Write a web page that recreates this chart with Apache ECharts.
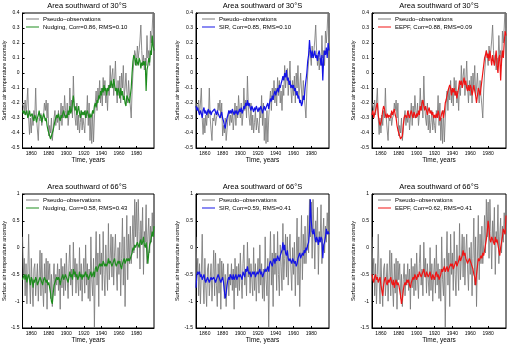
<!DOCTYPE html>
<html><head><meta charset="utf-8">
<script src="https://cdn.jsdelivr.net/npm/echarts@6/dist/echarts.min.js"></script>
<style>html,body{margin:0;padding:0;background:#fff}#c{width:509px;height:345px}</style>
</head><body><div id="c"></div>
<script>
const firstYear = 1850;
const xTicks = [1860, 1880, 1900, 1920, 1940, 1960, 1980];
const yTicks30 = [-0.5, 0.4, 0.1];
const yTicks66 = [-1.5, 1, 0.5];
const titles = ['Area southward of 30°S', 'Area southward of 66°S'];
const obsName = 'Pseudo–observations';
const modelNames = [
  'Nudging, Corr=0.86, RMS=0.10', 'SIR, Corr=0.85, RMS=0.10', 'EEPF, Corr=0.88, RMS=0.09',
  'Nudging, Corr=0.58, RMS=0.43', 'SIR, Corr=0.59, RMS=0.41', 'EEPF, Corr=0.62, RMS=0.41'
];

const obs30 = [
 -0.20,-0.22,-0.25,-0.18,-0.28,-0.20,-0.10,-0.30,-0.41,-0.30,
 -0.40,-0.28,-0.35,-0.25,-0.30,-0.10,-0.30,-0.38,-0.45,-0.30,
 -0.32,-0.27,-0.35,-0.30,-0.28,-0.20,-0.25,-0.18,-0.30,-0.20,
 -0.42,-0.35,-0.40,-0.30,-0.45,-0.38,-0.30,-0.25,-0.35,-0.28,
 -0.33,-0.25,-0.38,-0.30,-0.20,-0.35,-0.22,-0.30,-0.15,-0.25,
 -0.30,-0.20,-0.35,-0.28,-0.10,-0.25,-0.18,-0.30,-0.02,-0.22,
 -0.30,-0.35,-0.20,-0.38,-0.28,-0.40,-0.33,-0.25,-0.38,-0.30,
 -0.35,-0.40,-0.25,-0.30,-0.15,-0.35,-0.20,-0.45,-0.30,-0.47,
 -0.25,-0.46,-0.30,-0.20,-0.12,-0.25,-0.10,-0.18,-0.05,-0.20,
 -0.10,-0.22,-0.03,-0.15,-0.05,-0.20,-0.12,-0.25,-0.08,-0.15,
  0.05,-0.10,-0.02, 0.03,-0.15,-0.05, 0.08,-0.10,-0.20,-0.05,
 -0.15,-0.02,-0.20, 0.00,-0.10, 0.05,-0.15,-0.10, 0.00,-0.12,
 -0.20,-0.05,-0.15,-0.22,-0.30,-0.12, 0.00, 0.08, 0.15, 0.12,
  0.05, 0.18, 0.10, 0.15, 0.22, 0.32, 0.15, 0.05, 0.12, 0.02,
  0.10, 0.05, 0.25, 0.10, 0.15, 0.05, 0.28, 0.20, 0.30, 0.45,
  0.30];
const nudging30 = [
 -0.25,-0.27,-0.25,-0.28,-0.27,-0.25,-0.30,-0.28,-0.25,-0.29,
 -0.30,-0.27,-0.30,-0.32,-0.28,-0.30,-0.33,-0.30,-0.28,-0.25,
 -0.30,-0.28,-0.33,-0.30,-0.27,-0.29,-0.32,-0.30,-0.35,-0.38,
 -0.40,-0.42,-0.44,-0.45,-0.43,-0.38,-0.35,-0.32,-0.30,-0.28,
 -0.30,-0.27,-0.30,-0.32,-0.28,-0.30,-0.27,-0.25,-0.28,-0.30,
 -0.28,-0.30,-0.25,-0.28,-0.22,-0.27,-0.25,-0.20,-0.15,-0.22,
 -0.25,-0.22,-0.28,-0.25,-0.22,-0.27,-0.30,-0.25,-0.28,-0.26,
 -0.28,-0.25,-0.30,-0.27,-0.25,-0.28,-0.30,-0.27,-0.30,-0.28,
 -0.25,-0.27,-0.22,-0.20,-0.23,-0.18,-0.20,-0.15,-0.17,-0.12,
 -0.15,-0.10,-0.13,-0.08,-0.12,-0.10,-0.15,-0.10,-0.12,-0.08,
 -0.10,-0.05,-0.08,-0.10,-0.04,-0.08,-0.12,-0.10,-0.15,-0.10,
 -0.12,-0.17,-0.10,-0.15,-0.12,-0.18,-0.15,-0.20,-0.22,-0.15,
 -0.15,-0.18,-0.20,-0.15,-0.10, 0.00, 0.08, 0.12, 0.10, 0.05,
  0.10, 0.07, 0.05, 0.10, 0.08, 0.03, 0.07, 0.05, 0.08, 0.05,
  0.08,-0.12, 0.02, 0.05, 0.10, 0.07, 0.15, 0.12, 0.25, 0.18,
  0.15];
const sir30 = [
 -0.22,-0.25,-0.23,-0.26,-0.28,-0.25,-0.27,-0.30,-0.25,-0.23,
 -0.27,-0.25,-0.28,-0.26,-0.24,-0.27,-0.25,-0.28,-0.26,-0.25,
 -0.27,-0.24,-0.26,-0.28,-0.25,-0.27,-0.26,-0.30,-0.28,-0.26,
 -0.30,-0.32,-0.35,-0.37,-0.33,-0.30,-0.28,-0.25,-0.27,-0.25,
 -0.27,-0.24,-0.26,-0.28,-0.25,-0.27,-0.25,-0.28,-0.26,-0.24,
 -0.26,-0.23,-0.27,-0.25,-0.22,-0.24,-0.20,-0.22,-0.18,-0.22,
 -0.20,-0.23,-0.25,-0.22,-0.24,-0.26,-0.23,-0.25,-0.22,-0.24,
 -0.26,-0.23,-0.25,-0.22,-0.24,-0.27,-0.24,-0.22,-0.25,-0.23,
 -0.22,-0.20,-0.24,-0.20,-0.17,-0.19,-0.15,-0.18,-0.14,-0.12,
 -0.15,-0.12,-0.10,-0.13,-0.08,-0.10,-0.07,-0.05,-0.02,-0.05,
  0.00,-0.03, 0.02,-0.05,-0.03,-0.08,-0.05,-0.10,-0.08,-0.10,
 -0.08,-0.12,-0.10,-0.15,-0.12,-0.17,-0.15,-0.20,-0.18,-0.22,
 -0.20,-0.15,-0.18,-0.10,-0.05, 0.00, 0.08, 0.12, 0.22, 0.15,
  0.10, 0.15, 0.10, 0.12, 0.15, 0.10, 0.12, 0.08, 0.13, 0.15,
  0.10, 0.05, 0.12,-0.05, 0.10, 0.15, 0.12, 0.17, 0.10, 0.20,
  0.15];
const eepf30 = [
 -0.28,-0.25,-0.30,-0.27,-0.25,-0.22,-0.20,-0.28,-0.32,-0.35,
 -0.33,-0.30,-0.25,-0.22,-0.24,-0.28,-0.30,-0.27,-0.30,-0.28,
 -0.27,-0.30,-0.25,-0.28,-0.26,-0.24,-0.28,-0.30,-0.35,-0.38,
 -0.40,-0.42,-0.44,-0.45,-0.42,-0.35,-0.30,-0.28,-0.27,-0.30,
 -0.25,-0.28,-0.30,-0.27,-0.25,-0.28,-0.30,-0.26,-0.28,-0.30,
 -0.27,-0.29,-0.25,-0.28,-0.22,-0.25,-0.20,-0.18,-0.22,-0.25,
 -0.22,-0.25,-0.28,-0.25,-0.23,-0.27,-0.25,-0.28,-0.26,-0.30,
 -0.28,-0.30,-0.27,-0.30,-0.25,-0.28,-0.32,-0.30,-0.27,-0.25,
 -0.30,-0.26,-0.20,-0.18,-0.15,-0.12,-0.10,-0.08,-0.10,-0.15,
 -0.10,-0.13,-0.10,-0.15,-0.12,-0.17,-0.13,-0.10,-0.05,-0.08,
 -0.05,-0.10,-0.07,-0.03,-0.08,-0.05,-0.10,-0.12,-0.08,-0.12,
 -0.08,-0.10,-0.15,-0.12,-0.08,-0.12,-0.15,-0.20,-0.15,-0.10,
 -0.12,-0.15,-0.10,-0.05, 0.00, 0.05, 0.10, 0.12, 0.15, 0.10,
  0.13, 0.08, 0.15, 0.10, 0.05, 0.12, 0.08, 0.05, 0.10, 0.15,
  0.05, 0.00, 0.10, 0.12,-0.05, 0.08, 0.15, 0.10, 0.20, 0.28,
  0.25];
const obs66 = [
  0.20,-0.50,-0.20,-0.90,-0.30,-1.05,-0.50, 0.25,-0.60,-1.05,
 -0.20,-0.70,-1.10,-0.40,-0.30,-0.90,-0.60,-0.30,-1.00,-0.55,
 -0.05,-0.90,-0.10,-0.70,-1.10,-0.30,-0.85,-0.20,-1.15,-0.25,
 -0.60,-0.30,-0.95,-0.50,-1.10,-0.60,-0.30,-0.90,-0.50,-0.70,
 -0.30,-0.80,-0.40,-1.15,-0.20,-0.75,-0.35,-0.90,-0.30,-0.80,
 -0.10,-0.60,-0.95,-0.30, 0.05,-0.70,-0.40,-0.90, 0.10,-0.55,
 -0.20,-0.85,-0.30,-0.60,-0.90, 0.00,-0.80,-0.30,-1.00,-0.50,
 -0.20,-0.85, 0.05,-0.70,-0.30,-0.95,-0.40,-1.00, 0.20,-0.60,
 -0.90,-0.20,-1.50,-0.40, 0.30,-0.70,-0.10,-1.10, 0.25,-0.50,
 -0.10,-0.80, 0.30,-0.50,-0.90, 0.05,-0.35,-0.80, 0.45,-0.60,
 -0.20, 0.25,-0.55, 0.20,-0.70,-0.10, 0.25,-0.40,-0.80, 0.00,
 -0.50, 0.10,-0.90,-0.20, 0.55,-0.70, 0.20,-1.10,-0.20, 0.60,
 -0.60, 0.25,-0.30, 0.40,-0.30, 0.05, 0.60,-0.10, 0.90, 0.20,
  0.85,-0.20, 0.90, 0.30,-0.40, 0.50, 0.10, 0.75,-0.50, 0.30,
  0.10, 0.80,-0.30, 0.20, 0.55,-0.10, 0.40, 0.10, 0.65, 0.25,
  0.95];
const nudging66 = [
 -0.60,-0.55,-0.50,-0.60,-0.50,-0.65,-0.55,-0.50,-0.60,-0.70,
 -0.55,-0.60,-0.75,-0.60,-0.65,-0.55,-0.60,-0.70,-0.65,-0.60,
 -0.55,-0.60,-0.65,-0.70,-0.60,-0.55,-0.60,-0.65,-0.60,-0.70,
 -0.65,-0.75,-0.85,-1.00,-1.05,-0.85,-0.70,-0.65,-0.60,-0.55,
 -0.60,-0.55,-0.60,-0.70,-0.60,-0.55,-0.50,-0.60,-0.55,-0.50,
 -0.55,-0.60,-0.65,-0.55,-0.45,-0.55,-0.50,-0.60,-0.40,-0.50,
 -0.45,-0.55,-0.50,-0.60,-0.55,-0.45,-0.55,-0.50,-0.60,-0.50,
 -0.55,-0.50,-0.45,-0.55,-0.50,-0.60,-0.55,-0.50,-0.45,-0.55,
 -0.50,-0.45,-0.55,-0.40,-0.35,-0.45,-0.40,-0.35,-0.30,-0.35,
 -0.30,-0.35,-0.25,-0.30,-0.35,-0.30,-0.35,-0.30,-0.20,-0.30,
 -0.25,-0.30,-0.35,-0.30,-0.25,-0.20,-0.30,-0.35,-0.30,-0.25,
 -0.30,-0.25,-0.35,-0.40,-0.30,-0.25,-0.20,-0.30,-0.25,-0.20,
 -0.25,-0.20,-0.25,-0.20,-0.15,-0.10, 0.00,-0.05, 0.05, 0.00,
  0.05, 0.10, 0.05, 0.00, 0.10, 0.15, 0.05, 0.10, 0.20, 0.05,
  0.00, 0.10,-0.10,-0.30,-0.10, 0.05, 0.10, 0.20, 0.30, 0.20,
  0.40];
const sir66 = [
 -0.75,-0.50,-0.45,-0.50,-0.45,-0.55,-0.50,-0.60,-0.55,-0.50,
 -0.60,-0.65,-0.60,-0.55,-0.60,-0.65,-0.60,-0.55,-0.60,-0.60,
 -0.55,-0.60,-0.65,-0.60,-0.55,-0.50,-0.55,-0.60,-0.65,-0.60,
 -0.55,-0.65,-0.80,-0.95,-0.85,-0.70,-0.60,-0.55,-0.60,-0.50,
 -0.55,-0.60,-0.50,-0.60,-0.55,-0.50,-0.60,-0.55,-0.50,-0.55,
 -0.50,-0.55,-0.60,-0.45,-0.50,-0.55,-0.40,-0.45,-0.35,-0.45,
 -0.50,-0.45,-0.55,-0.50,-0.45,-0.50,-0.45,-0.55,-0.50,-0.45,
 -0.50,-0.45,-0.40,-0.50,-0.45,-0.55,-0.50,-0.45,-0.40,-0.45,
 -0.40,-0.35,-0.45,-0.30,-0.25,-0.30,-0.35,-0.25,-0.20,-0.30,
 -0.20,-0.25,-0.15,-0.20,-0.25,-0.15,-0.10,-0.05, 0.10,-0.05,
  0.05,-0.10,-0.15,-0.05,-0.20,-0.25,-0.20,-0.25,-0.30,-0.20,
 -0.25,-0.30,-0.25,-0.35,-0.30,-0.20,-0.15,-0.10,-0.20,-0.15,
 -0.10,-0.15,-0.05,-0.10, 0.00,-0.05, 0.05, 0.10, 0.30, 0.90,
  0.50, 0.30, 0.25, 0.35, 0.20, 0.10, 0.20, 0.15, 0.05, 0.20,
  0.10, 0.20, 0.15,-0.20, 0.05, 0.10, 0.20, 0.35, 0.25, 0.30,
  0.25];
const eepf66 = [
 -0.50,-0.60,-0.65,-0.55,-0.50,-0.60,-0.55,-0.65,-0.60,-0.55,
 -0.70,-0.80,-0.90,-0.70,-0.60,-0.55,-0.65,-0.70,-0.60,-0.65,
 -0.60,-0.55,-0.65,-0.70,-0.60,-0.75,-0.65,-0.60,-0.70,-0.65,
 -0.70,-0.80,-0.90,-1.05,-0.95,-0.80,-0.70,-0.65,-0.70,-0.60,
 -0.65,-0.60,-0.70,-0.75,-0.65,-0.60,-0.55,-0.60,-0.50,-0.55,
 -0.60,-0.50,-0.55,-0.45,-0.50,-0.55,-0.50,-0.45,-0.40,-0.50,
 -0.55,-0.45,-0.50,-0.55,-0.50,-0.45,-0.55,-0.60,-0.50,-0.55,
 -0.60,-0.50,-0.45,-0.55,-0.50,-0.60,-0.55,-0.50,-0.40,-0.45,
 -0.40,-0.35,-0.45,-0.40,-0.35,-0.45,-0.40,-0.35,-0.30,-0.35,
 -0.30,-0.40,-0.35,-0.30,-0.25,-0.35,-0.30,-0.25,-0.15,-0.25,
 -0.20,-0.15,-0.05,-0.15,-0.10,-0.20,-0.25,-0.30,-0.25,-0.20,
 -0.25,-0.30,-0.35,-0.40,-0.50,-0.55,-0.70,-0.50,-0.35,-0.20,
 -0.25,-0.20,-0.15,-0.20,-0.10,-0.15,-0.05, 0.05, 0.15, 0.30,
  0.50, 0.35, 0.15, 0.10, 0.20, 0.15, 0.10, 0.05, 0.20, 0.10,
  0.15, 0.05,-0.05,-0.15, 0.00, 0.10, 0.20, 0.35, 0.30, 0.25,
  0.60];

const years = obs30.map((_, i) => firstYear + i);
const pair = arr => arr.map((v, i) => [years[i], v]);

const FONT = 'Liberation Sans, Arial, sans-serif';
const cols = [{l: 20, w: 134}, {l: 196, w: 133}, {l: 372, w: 134}];
const rows = [{t: 13, h: 135}, {t: 194, h: 134}];
const modelColors = ['#1e8c1e', '#1414e6', '#f01414'];
const models = [[nudging30, sir30, eepf30], [nudging66, sir66, eepf66]];
const obsArr = [obs30, obs66];
const yCfg = [yTicks30, yTicks66];

const option = {animation: false, backgroundColor: '#fff', title: [], legend: [], grid: [], xAxis: [], yAxis: [], series: []};
let k = 0;
for (let r = 0; r < 2; r++) {
  for (let c = 0; c < 3; c++) {
    const g = {left: cols[c].l, width: cols[c].w, top: rows[r].t, height: rows[r].h};
    option.grid.push({left: g.left, top: g.top, width: g.width, height: g.height, show: true, borderColor: '#000', borderWidth: 1, backgroundColor: '#fff'});
    option.title.push({text: titles[r], left: g.left + g.width / 2, textAlign: 'center', top: g.top - 11,
      padding: 0, textStyle: {fontSize: 7.5, fontWeight: 'normal', color: '#000', fontFamily: FONT}});
    option.legend.push({left: g.left + 6, top: g.top + 3, orient: 'vertical', padding: 0, itemGap: 2,
      icon: 'rect', itemWidth: 13, itemHeight: 1, textStyle: {fontSize: 6, color: '#000', fontFamily: FONT, padding: [0, 0, 0, -1]},
      data: [obsName, modelNames[k]]});
    option.xAxis.push({gridIndex: k, type: 'value', min: 1850, max: 2000,
      axisLine: {onZero: false, lineStyle: {color: '#000', width: 1}},
      axisTick: {inside: true, length: 2, customValues: xTicks, lineStyle: {color: '#000'}},
      axisLabel: {customValues: xTicks, fontSize: 5, margin: 3, color: '#000', fontFamily: FONT,
        formatter: v => String(v)},
      splitLine: {show: false},
      name: 'Time, years', nameLocation: 'middle', nameGap: 9,
      nameTextStyle: {fontSize: 6.5, color: '#000', fontFamily: FONT}});
    const yc = yCfg[r];
    option.yAxis.push({gridIndex: k, type: 'value', min: yc[0], max: yc[1], interval: yc[2],
      axisLine: {show: true, onZero: false, lineStyle: {color: '#000', width: 1}},
      axisTick: {show: true, inside: true, length: 2, lineStyle: {color: '#000'}},
      axisLabel: {fontSize: 5, margin: 3, color: '#000', fontFamily: FONT,
        formatter: v => String(Math.round(v * 10) / 10)},
      splitLine: {show: false},
      name: 'Surface air temperature anomaly', nameLocation: 'middle', nameGap: 15,
      nameTextStyle: {fontSize: 5.5, color: '#000', fontFamily: FONT}});
    option.series.push({type: 'line', name: obsName, xAxisIndex: k, yAxisIndex: k, data: pair(obsArr[r]),
      symbol: 'none', color: '#7a7a7a', lineStyle: {width: 0.85, color: '#7a7a7a'}, z: 2});
    option.series.push({type: 'line', name: modelNames[k], xAxisIndex: k, yAxisIndex: k, data: pair(models[r][c]),
      symbol: 'none', color: modelColors[c], lineStyle: {width: 1.2, color: modelColors[c]}, z: 3});
    k++;
  }
}
const chart = echarts.init(document.getElementById('c'), null, {renderer: 'canvas'});
chart.setOption(option);
</script></body></html>
